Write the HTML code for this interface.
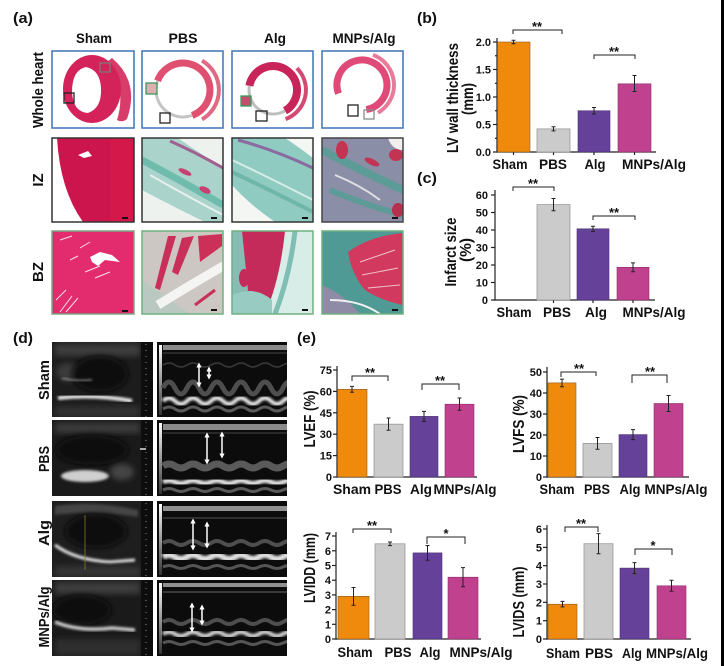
<!DOCTYPE html>
<html><head><meta charset="utf-8"><style>
html,body{margin:0;padding:0;background:#fff;}
svg{display:block;}
text{font-family:"Liberation Sans",Arial,sans-serif;font-weight:bold;fill:#111;}
</style></head><body>
<svg width="724" height="666" viewBox="0 0 724 666" xmlns="http://www.w3.org/2000/svg">
<defs>
<filter id="b1" x="-20%" y="-20%" width="140%" height="140%"><feGaussianBlur stdDeviation="1.2"/></filter>
<filter id="b2" x="-30%" y="-30%" width="160%" height="160%"><feGaussianBlur stdDeviation="3"/></filter>
<marker id="ah" viewBox="0 0 10 10" refX="7" refY="5" markerWidth="3.5" markerHeight="3.5" orient="auto-start-reverse"><path d="M0 0 L10 5 L0 10 Z" fill="#fff"/></marker>
<linearGradient id="vbar" x1="0" y1="0" x2="0" y2="1"><stop offset="0" stop-color="#fff"/><stop offset="1" stop-color="#333"/></linearGradient>
<clipPath id="i1"><rect x="52" y="138" width="82" height="84"/></clipPath>
<clipPath id="i2"><rect x="142" y="138" width="81" height="84"/></clipPath>
<clipPath id="i3"><rect x="232" y="138" width="81" height="84"/></clipPath>
<clipPath id="i4"><rect x="322" y="138" width="81" height="84"/></clipPath>
<clipPath id="z1"><rect x="52" y="231" width="82" height="83"/></clipPath>
<clipPath id="z2"><rect x="142" y="231" width="81" height="83"/></clipPath>
<clipPath id="z3"><rect x="232" y="231" width="81" height="83"/></clipPath>
<clipPath id="z4"><rect x="322" y="231" width="81" height="83"/></clipPath>
<clipPath id="e1"><rect x="52" y="342" width="101" height="75"/></clipPath>
<clipPath id="e2"><rect x="52" y="420" width="101" height="76"/></clipPath>
<clipPath id="e3"><rect x="52" y="501" width="101" height="76"/></clipPath>
<clipPath id="e4"><rect x="52" y="580" width="101" height="76"/></clipPath>
<clipPath id="m1"><rect x="157" y="342" width="130" height="75"/></clipPath>
<clipPath id="m2"><rect x="157" y="420" width="130" height="76"/></clipPath>
<clipPath id="m3"><rect x="157" y="501" width="130" height="76"/></clipPath>
<clipPath id="m4"><rect x="157" y="580" width="130" height="76"/></clipPath>
</defs>
<rect width="724" height="666" fill="#fff"/>
<rect x="721" y="0" width="3" height="666" fill="#000"/>

<!-- ===== Panel (a) ===== -->
<text x="13" y="23" font-size="15" textLength="20" lengthAdjust="spacingAndGlyphs">(a)</text>
<text x="94" y="43" font-size="14" text-anchor="middle" textLength="36" lengthAdjust="spacingAndGlyphs">Sham</text>
<text x="183" y="43" font-size="14" text-anchor="middle" textLength="29" lengthAdjust="spacingAndGlyphs">PBS</text>
<text x="275" y="43" font-size="14" text-anchor="middle" textLength="22" lengthAdjust="spacingAndGlyphs">Alg</text>
<text x="364" y="43" font-size="14" text-anchor="middle" textLength="63" lengthAdjust="spacingAndGlyphs">MNPs/Alg</text>
<text transform="translate(43,90) rotate(-90)" font-size="15" text-anchor="middle" textLength="76" lengthAdjust="spacingAndGlyphs">Whole heart</text>
<text transform="translate(43,180) rotate(-90)" font-size="15" text-anchor="middle">IZ</text>
<text transform="translate(43,272) rotate(-90)" font-size="15" text-anchor="middle">BZ</text>

<!-- whole hearts -->
<rect x="52" y="51" width="82" height="77" fill="#fff" stroke="#3f72b5" stroke-width="1.5"/>
<path d="M112 58 Q140 82 127 119 Q122 123 117 120 Q127 88 107 62 Z" fill="#d83c68"/>
<ellipse cx="92" cy="89" rx="29" ry="34" fill="#d4235a"/>
<path d="M86 67 Q100 70 101 88 Q102 108 88 113 Q73 112 72 92 Q72 70 86 67 Z" fill="#fff"/>
<rect x="100" y="63" width="10" height="9" fill="none" stroke="#7a7a7a" stroke-width="1.3"/>
<rect x="64" y="93" width="10" height="10" fill="none" stroke="#222" stroke-width="1.3"/>

<rect x="142" y="51" width="81" height="77" fill="#fff" stroke="#3f72b5" stroke-width="1.5"/>
<path d="M157.6 80.8 A27 27 0 1 1 192.2 115.4" fill="none" stroke="#e05070" stroke-width="7"/>
<path d="M192.2 115.4 A27 27 0 0 1 157.6 80.8" fill="none" stroke="#c4c4c4" stroke-width="3"/>
<path d="M202 60.6 A34 34 0 0 1 202 119.4" fill="none" stroke="#e06a86" stroke-width="4"/>
<rect x="146" y="83" width="11" height="11" fill="#d9b0b0" stroke="#3a9a5a" stroke-width="1.3"/>
<rect x="160" y="113" width="10" height="10" fill="none" stroke="#222" stroke-width="1.3"/>

<rect x="232" y="51" width="81" height="77" fill="#fff" stroke="#3f72b5" stroke-width="1.5"/>
<path d="M249.4 85.8 A24 24 0 1 1 285 110.8" fill="none" stroke="#c8245a" stroke-width="8"/>
<path d="M285 110.8 A24 24 0 0 1 249.4 85.8" fill="none" stroke="#bfbfbf" stroke-width="3"/>
<path d="M296.9 68.1 A31 31 0 0 1 285.6 119.1" fill="none" stroke="#d44a72" stroke-width="4"/>
<rect x="241" y="96" width="10" height="10" fill="#c05070" stroke="#3a9a5a" stroke-width="1.3"/>
<rect x="256" y="111" width="11" height="10" fill="none" stroke="#222" stroke-width="1.3"/>

<rect x="322" y="51" width="81" height="77" fill="#fff" stroke="#3f72b5" stroke-width="1.5"/>
<path d="M338.5 93.6 A25 25 0 1 1 366.3 109.6" fill="none" stroke="#e04a78" stroke-width="7"/>
<path d="M372.9 54.9 A32 32 0 0 1 378 112.7" fill="none" stroke="#e87a9a" stroke-width="4"/>
<rect x="348" y="105" width="10" height="11" fill="none" stroke="#222" stroke-width="1.3"/>
<rect x="364" y="110" width="10" height="9" fill="none" stroke="#8a8a8a" stroke-width="1.3"/>

<!-- IZ row -->
<g clip-path="url(#i1)">
<rect x="52" y="138" width="82" height="84" fill="#cc154c"/>
<rect x="110" y="138" width="24" height="84" fill="#d81a4a" opacity="0.6"/>
<path d="M52 138 L57 138 Q60 190 83 222 L52 222 Z" fill="#fff"/>
<path d="M78 155 L88 151 L92 156 L84 158 Z" fill="#fff"/>
<rect x="122" y="217" width="6" height="2" fill="#111"/>
</g>
<rect x="52" y="138" width="82" height="84" fill="none" stroke="#333" stroke-width="1.5"/>

<g clip-path="url(#i2)">
<rect x="142" y="138" width="81" height="84" fill="#eef2ef"/>
<path d="M142 138 L178 138 Q195 150 223 168 L223 222 L205 222 Q170 205 142 190 Z" fill="#a9d3cb"/>
<path d="M170 141 Q195 152 223 168" fill="none" stroke="#a06090" stroke-width="3"/>
<path d="M142 160 Q180 180 223 205" fill="none" stroke="#6fbcad" stroke-width="7"/>
<path d="M150 175 Q185 195 223 215" fill="none" stroke="#e8f0ee" stroke-width="2"/>
<ellipse cx="185" cy="172" rx="7" ry="2.5" fill="#c84070" transform="rotate(25 185 172)"/>
<ellipse cx="205" cy="190" rx="6" ry="3" fill="#c84070" transform="rotate(25 205 190)"/>
<rect x="211" y="217" width="6" height="2" fill="#111"/>
</g>
<rect x="142" y="138" width="81" height="84" fill="none" stroke="#333" stroke-width="1.5"/>

<g clip-path="url(#i3)">
<rect x="232" y="138" width="81" height="84" fill="#8fcbc1"/>
<path d="M232 185 Q250 205 275 222 L232 222 Z" fill="#f4f6f4"/>
<path d="M285 138 L313 138 L313 158 Q300 148 285 138 Z" fill="#f4f6f4"/>
<path d="M238 140 Q275 150 313 168" fill="none" stroke="#8a6aa0" stroke-width="3"/>
<path d="M232 160 Q270 178 313 200" fill="none" stroke="#d8ece8" stroke-width="2"/>
<path d="M232 172 Q270 190 313 212" fill="none" stroke="#6fb5a8" stroke-width="4"/>
<rect x="302" y="217" width="6" height="2" fill="#111"/>
</g>
<rect x="232" y="138" width="81" height="84" fill="none" stroke="#333" stroke-width="1.5"/>

<g clip-path="url(#i4)">
<rect x="322" y="138" width="81" height="84" fill="#8a8ea6"/>
<path d="M322 150 Q360 170 403 190" fill="none" stroke="#5d9b98" stroke-width="8"/>
<path d="M330 190 Q365 205 403 215" fill="none" stroke="#5d9b98" stroke-width="6"/>
<path d="M335 175 Q360 185 380 200" fill="none" stroke="#e0e0e4" stroke-width="2"/>
<ellipse cx="342" cy="150" rx="6" ry="9" fill="#c23452"/>
<ellipse cx="372" cy="162" rx="8" ry="3" fill="#c23452" transform="rotate(25 372 162)"/>
<path d="M388 138 L403 138 L403 150 Q392 150 388 138 Z" fill="#f2eeee"/>
<ellipse cx="396" cy="155" rx="7" ry="6" fill="#c23452"/>
<ellipse cx="398" cy="210" rx="6" ry="7" fill="#b82e4e"/>
<rect x="392" y="217" width="6" height="2" fill="#111"/>
</g>
<rect x="322" y="138" width="81" height="84" fill="none" stroke="#444" stroke-width="1.5"/>

<!-- BZ row -->
<g clip-path="url(#z1)">
<rect x="52" y="231" width="82" height="83" fill="#e22c6e"/>
<path d="M90 257 L100 252 L112 255 L120 262 L105 260 L98 266 L92 262 Z" fill="#fff"/>
<g stroke="#fbe0ea" stroke-width="1" fill="none">
<path d="M60 240 L72 236"/><path d="M80 248 L90 242"/><path d="M70 260 L78 256"/><path d="M85 272 L100 266"/><path d="M95 278 L110 272"/>
<path d="M56 300 L66 290"/><path d="M60 312 L72 296"/><path d="M66 312 L78 298"/>
</g>
<rect x="122" y="310" width="6" height="2" fill="#111"/>
</g>
<rect x="52" y="231" width="82" height="83" fill="none" stroke="#7aa884" stroke-width="1.5"/>

<g clip-path="url(#z2)">
<rect x="142" y="231" width="81" height="83" fill="#cdc7c3"/>
<path d="M142 280 L142 314 L190 314 Z" fill="#b9c9c2"/>
<path d="M168 236 L176 236 L160 290 L155 288 Z" fill="#c8305a"/>
<path d="M182 238 L194 236 L178 275 L172 272 Z" fill="#c8305a"/>
<path d="M198 236 L222 234 L222 246 L200 262 Z" fill="#cc3058"/>
<path d="M158 305 Q190 285 225 265" fill="none" stroke="#f4f4f2" stroke-width="9"/>
<path d="M195 305 L215 290" fill="none" stroke="#c8305a" stroke-width="3"/>
<rect x="211" y="309" width="6" height="2" fill="#111"/>
</g>
<rect x="142" y="231" width="81" height="83" fill="none" stroke="#6fb07f" stroke-width="1.5"/>

<g clip-path="url(#z3)">
<rect x="232" y="231" width="81" height="83" fill="#c42a5a"/>
<path d="M232 231 L242 231 L248 290 L232 314 Z" fill="#86bcb3"/>
<path d="M285 231 L313 231 L313 314 L265 314 Q280 280 285 231 Z" fill="#d8ece8"/>
<path d="M295 231 Q290 275 275 314" fill="none" stroke="#7fbfb3" stroke-width="5"/>
<path d="M232 295 Q255 285 272 300 L272 314 L232 314 Z" fill="#98ccc3"/>
<ellipse cx="244" cy="278" rx="5" ry="9" fill="#c42a5a"/>
<rect x="302" y="309" width="6" height="2" fill="#111"/>
</g>
<rect x="232" y="231" width="81" height="83" fill="none" stroke="#6fb07f" stroke-width="1.5"/>

<g clip-path="url(#z4)">
<rect x="322" y="231" width="81" height="83" fill="#4f9a94"/>
<path d="M348 252 Q370 236 403 233 L403 305 Q380 300 365 290 Q352 275 348 252 Z" fill="#d13a5e"/>
<path d="M360 262 L395 250 M362 275 L398 268 M368 288 L400 285" stroke="#f0c0cc" stroke-width="1"/>
<path d="M322 285 Q345 295 360 314 L322 314 Z" fill="#8f8aa6"/>
<path d="M330 300 Q360 300 380 314" fill="none" stroke="#f0f0f0" stroke-width="2"/>
<rect x="392" y="309" width="6" height="2" fill="#111"/>
</g>
<rect x="322" y="231" width="81" height="83" fill="none" stroke="#6fb07f" stroke-width="1.5"/>

<!-- ===== Panel (b) ===== -->
<text x="417" y="23" font-size="15" textLength="20" lengthAdjust="spacingAndGlyphs">(b)</text>
<text transform="translate(458,98) rotate(-90)" font-size="16" text-anchor="middle" textLength="110" lengthAdjust="spacingAndGlyphs">LV wall thickness</text>
<text transform="translate(473,99) rotate(-90)" font-size="16" text-anchor="middle" textLength="32" lengthAdjust="spacingAndGlyphs">(mm)</text>
<g stroke="#222" stroke-width="1.2">
<line x1="497" y1="38" x2="497" y2="152.6"/><line x1="496.4" y1="152" x2="656" y2="152"/>
<line x1="493" y1="152" x2="497" y2="152"/><line x1="493" y1="124.5" x2="497" y2="124.5"/><line x1="493" y1="97" x2="497" y2="97"/><line x1="493" y1="69.5" x2="497" y2="69.5"/><line x1="493" y1="42" x2="497" y2="42"/>
<line x1="495" y1="138.25" x2="497" y2="138.25"/><line x1="495" y1="110.75" x2="497" y2="110.75"/><line x1="495" y1="83.25" x2="497" y2="83.25"/><line x1="495" y1="55.75" x2="497" y2="55.75"/>
<line x1="513.5" y1="152" x2="513.5" y2="155"/><line x1="553.5" y1="152" x2="553.5" y2="155"/><line x1="594" y1="152" x2="594" y2="155"/><line x1="634.5" y1="152" x2="634.5" y2="155"/>
</g>
<g font-size="11" text-anchor="end">
<text x="491" y="156">0.0</text><text x="491" y="128.5">0.5</text><text x="491" y="101">1.0</text><text x="491" y="73.5">1.5</text><text x="491" y="46">2.0</text>
</g>
<rect x="497.5" y="42" width="32.5" height="110" fill="#f08a0c" stroke="#8a5a20" stroke-width="0.6"/>
<rect x="537" y="128.9" width="33" height="23.1" fill="#cbcbcb" stroke="#999" stroke-width="0.8"/>
<rect x="578" y="110.75" width="32" height="41.25" fill="#66419a" stroke="#4a3070" stroke-width="0.6"/>
<rect x="618" y="83.8" width="33" height="68.2" fill="#c0428f" stroke="#8a2e68" stroke-width="0.6"/>
<g stroke="#222" stroke-width="1">
<path d="M513.5 40.3 V43.7 M511.5 40.3 H515.5 M511.5 43.7 H515.5"/>
<path d="M553.5 126.7 V130.9 M551.5 126.7 H555.5 M551.5 130.9 H555.5"/>
<path d="M594 107.5 V114 M592 107.5 H596 M592 114 H596"/>
<path d="M634.5 75.5 V91.5 M632.5 75.5 H636.5 M632.5 91.5 H636.5"/>
<path d="M513 34 V30 H562 V34" fill="none"/>
<path d="M594 59 V55 H635 V59" fill="none"/>
</g>
<g font-size="13" text-anchor="middle"><text x="537" y="31">**</text><text x="614" y="56">**</text></g>
<g font-size="14" text-anchor="middle">
<text x="510" y="169" textLength="35" lengthAdjust="spacingAndGlyphs">Sham</text>
<text x="553" y="169" textLength="28" lengthAdjust="spacingAndGlyphs">PBS</text>
<text x="595" y="169" textLength="21" lengthAdjust="spacingAndGlyphs">Alg</text>
<text x="654" y="169" textLength="64" lengthAdjust="spacingAndGlyphs">MNPs/Alg</text>
</g>

<!-- ===== Panel (c) ===== -->
<text x="417" y="183" font-size="15" textLength="20" lengthAdjust="spacingAndGlyphs">(c)</text>
<text transform="translate(456,252) rotate(-90)" font-size="16" text-anchor="middle" textLength="69" lengthAdjust="spacingAndGlyphs">Infarct size</text>
<text transform="translate(471,250) rotate(-90)" font-size="16" text-anchor="middle" textLength="24" lengthAdjust="spacingAndGlyphs">(%)</text>
<g stroke="#222" stroke-width="1.2">
<line x1="495" y1="190" x2="495" y2="300.6"/><line x1="494.4" y1="300" x2="655" y2="300"/>
<line x1="491" y1="300" x2="495" y2="300"/><line x1="491" y1="282.5" x2="495" y2="282.5"/><line x1="491" y1="265" x2="495" y2="265"/><line x1="491" y1="247.5" x2="495" y2="247.5"/><line x1="491" y1="230" x2="495" y2="230"/><line x1="491" y1="212.5" x2="495" y2="212.5"/><line x1="491" y1="195" x2="495" y2="195"/>
<line x1="553.5" y1="300" x2="553.5" y2="303"/><line x1="593" y1="300" x2="593" y2="303"/><line x1="633" y1="300" x2="633" y2="303"/>
</g>
<g font-size="11" text-anchor="end">
<text x="488" y="304">0</text><text x="488" y="286.5">10</text><text x="488" y="269">20</text><text x="488" y="251.5">30</text><text x="488" y="234">40</text><text x="488" y="216.5">50</text><text x="488" y="199">60</text>
</g>
<rect x="537" y="204.6" width="33" height="95.4" fill="#cbcbcb" stroke="#999" stroke-width="0.8"/>
<rect x="577" y="228.8" width="32" height="71.2" fill="#66419a" stroke="#4a3070" stroke-width="0.6"/>
<rect x="617" y="267.3" width="32" height="32.7" fill="#c0428f" stroke="#8a2e68" stroke-width="0.6"/>
<g stroke="#222" stroke-width="1">
<path d="M553.5 198.5 V210.7 M551.5 198.5 H555.5 M551.5 210.7 H555.5"/>
<path d="M593 226.2 V231.4 M591 226.2 H595 M591 231.4 H595"/>
<path d="M633 262.9 V271.7 M631 262.9 H635 M631 271.7 H635"/>
<path d="M513 191 V187 H554 V191" fill="none"/>
<path d="M593 220 V216 H635 V220" fill="none"/>
</g>
<g font-size="13" text-anchor="middle"><text x="533" y="188">**</text><text x="614" y="217">**</text></g>
<g font-size="14" text-anchor="middle">
<text x="514" y="317" textLength="35" lengthAdjust="spacingAndGlyphs">Sham</text>
<text x="557" y="317" textLength="28" lengthAdjust="spacingAndGlyphs">PBS</text>
<text x="596" y="317" textLength="22" lengthAdjust="spacingAndGlyphs">Alg</text>
<text x="654" y="317" textLength="63" lengthAdjust="spacingAndGlyphs">MNPs/Alg</text>
</g>

<!-- ===== Panel (d) ===== -->
<text x="13" y="343" font-size="15" textLength="20" lengthAdjust="spacingAndGlyphs">(d)</text>
<text transform="translate(49,380) rotate(-90)" font-size="15" text-anchor="middle" textLength="40" lengthAdjust="spacingAndGlyphs">Sham</text>
<text transform="translate(49,459) rotate(-90)" font-size="15" text-anchor="middle" textLength="26" lengthAdjust="spacingAndGlyphs">PBS</text>
<text transform="translate(49,533) rotate(-90)" font-size="15" text-anchor="middle" textLength="26" lengthAdjust="spacingAndGlyphs">Alg</text>
<text transform="translate(49,617) rotate(-90)" font-size="15" text-anchor="middle" textLength="61" lengthAdjust="spacingAndGlyphs">MNPs/Alg</text>

<!-- echo left images -->
<g clip-path="url(#e1)">
<rect x="52" y="342" width="101" height="75" fill="#1c1c1c"/>
<rect x="55" y="344" width="85" height="12" fill="#3c3c3c" filter="url(#b2)"/>
<ellipse cx="68" cy="372" rx="12" ry="9" fill="#3a3a3a" filter="url(#b2)"/>
<ellipse cx="100" cy="374" rx="28" ry="18" fill="#070707" filter="url(#b2)"/>
<path d="M62 378 Q75 382 92 380" stroke="#999" stroke-width="1.5" fill="none" filter="url(#b1)"/>
<path d="M58 398 Q95 394 132 401" stroke="#e4e4e4" stroke-width="4" fill="none" filter="url(#b1)"/>
<rect x="55" y="406" width="85" height="11" fill="#303030" filter="url(#b2)"/>
<rect x="141" y="342" width="12" height="75" fill="#0d0d0d"/>
<line x1="146" y1="344" x2="146" y2="417" stroke="#888" stroke-width="1" stroke-dasharray="1 5"/>
</g>
<g clip-path="url(#e2)">
<rect x="52" y="420" width="101" height="76" fill="#1a1a1a"/>
<rect x="55" y="423" width="85" height="10" fill="#3a3a3a" filter="url(#b2)"/>
<ellipse cx="92" cy="450" rx="36" ry="15" fill="#070707" filter="url(#b2)"/>
<ellipse cx="85" cy="476" rx="24" ry="6" fill="#cfcfcf" filter="url(#b1)"/>
<ellipse cx="122" cy="472" rx="12" ry="8" fill="#444" filter="url(#b2)"/>
<rect x="141" y="420" width="12" height="76" fill="#0d0d0d"/>
<line x1="146" y1="422" x2="146" y2="496" stroke="#888" stroke-width="1" stroke-dasharray="1 5"/>
<rect x="140" y="448" width="6" height="2" fill="#aaa"/>
</g>
<g clip-path="url(#e3)">
<rect x="52" y="501" width="101" height="76" fill="#1e1e1e"/>
<path d="M55 506 Q95 500 138 510 L138 517 Q95 510 55 515 Z" fill="#454545" filter="url(#b1)"/>
<ellipse cx="96" cy="531" rx="31" ry="17" fill="#070707" filter="url(#b2)"/>
<path d="M55 545 Q75 560 110 562 L135 560" stroke="#e2e2e2" stroke-width="3" fill="none" filter="url(#b1)"/>
<rect x="55" y="566" width="85" height="11" fill="#363636" filter="url(#b2)"/>
<line x1="85" y1="515" x2="85" y2="570" stroke="#8a7a30" stroke-width="0.8"/>
<rect x="141" y="501" width="12" height="76" fill="#0d0d0d"/>
<line x1="146" y1="503" x2="146" y2="577" stroke="#888" stroke-width="1" stroke-dasharray="1 5"/>
</g>
<g clip-path="url(#e4)">
<rect x="52" y="580" width="101" height="76" fill="#1a1a1a"/>
<rect x="55" y="582" width="85" height="12" fill="#3e3e3e" filter="url(#b2)"/>
<ellipse cx="82" cy="610" rx="29" ry="15" fill="#070707" filter="url(#b2)"/>
<path d="M55 622 Q80 632 112 628 L135 630" stroke="#cfcfcf" stroke-width="3.5" fill="none" filter="url(#b1)"/>
<rect x="55" y="639" width="85" height="17" fill="#2e2e2e" filter="url(#b2)"/>
<rect x="141" y="580" width="12" height="76" fill="#0d0d0d"/>
<line x1="146" y1="582" x2="146" y2="656" stroke="#888" stroke-width="1" stroke-dasharray="1 5"/>
</g>

<!-- M-mode images -->
<g clip-path="url(#m1)">
<rect x="157" y="342" width="130" height="75" fill="#0c0c0c"/>
<rect x="159" y="345" width="3" height="70" fill="url(#vbar)"/>
<rect x="163" y="345" width="124" height="5" fill="#8a8a8a"/>
<line x1="163" y1="353" x2="287" y2="353" stroke="#444" stroke-width="1"/>
<path d="M163 365 q6 -4 12 0 t12 0 t12 0 t12 0 t12 0 t12 0 t12 0 t12 0 t12 0 t12 0 t12 0" stroke="#3a3a3a" stroke-width="1.5" fill="none"/>
<path d="M163 388 q6 -12 12 0 t12 0 t12 0 t12 0 t12 0 t12 0 t12 0 t12 0 t12 0 t12 0 t12 0" stroke="#4e4e4e" stroke-width="5" fill="none"/>
<path d="M163 401 q6 -6 12 0 t12 0 t12 0 t12 0 t12 0 t12 0 t12 0 t12 0 t12 0 t12 0 t12 0" stroke="#e8e8e8" stroke-width="4" fill="none" filter="url(#b1)"/>
<path d="M163 409 q6 -4 12 0 t12 0 t12 0 t12 0 t12 0 t12 0 t12 0 t12 0 t12 0 t12 0 t12 0" stroke="#5a5a5a" stroke-width="3" fill="none"/>
<line x1="199" y1="364" x2="199" y2="386" stroke="#fff" stroke-width="1.5" marker-start="url(#ah)" marker-end="url(#ah)"/>
<line x1="209" y1="368" x2="209" y2="378" stroke="#fff" stroke-width="1.5" marker-start="url(#ah)" marker-end="url(#ah)"/>
</g>
<g clip-path="url(#m2)">
<rect x="157" y="420" width="130" height="76" fill="#0c0c0c"/>
<rect x="159" y="423" width="3" height="71" fill="url(#vbar)"/>
<rect x="163" y="424" width="124" height="6" fill="#8a8a8a"/>
<line x1="163" y1="433" x2="287" y2="433" stroke="#444" stroke-width="1"/>
<path d="M163 466 q6 -4 12 0 t12 0 t12 0 t12 0 t12 0 t12 0 t12 0 t12 0 t12 0 t12 0 t12 0" stroke="#5a5a5a" stroke-width="7" fill="none"/>
<path d="M163 482 q6 -3 12 0 t12 0 t12 0 t12 0 t12 0 t12 0 t12 0 t12 0 t12 0 t12 0 t12 0" stroke="#e0e0e0" stroke-width="5" fill="none" filter="url(#b1)"/>
<path d="M163 490 q6 -3 12 0 t12 0 t12 0 t12 0 t12 0 t12 0 t12 0 t12 0 t12 0 t12 0 t12 0" stroke="#5a5a5a" stroke-width="3" fill="none"/>
<line x1="207" y1="434" x2="207" y2="463" stroke="#fff" stroke-width="1.5" marker-start="url(#ah)" marker-end="url(#ah)"/>
<line x1="222" y1="433" x2="222" y2="457" stroke="#fff" stroke-width="1.5" marker-start="url(#ah)" marker-end="url(#ah)"/>
</g>
<g clip-path="url(#m3)">
<rect x="157" y="501" width="130" height="76" fill="#0c0c0c"/>
<rect x="159" y="504" width="3" height="71" fill="url(#vbar)"/>
<rect x="163" y="506" width="124" height="5" fill="#909090"/>
<line x1="163" y1="518" x2="287" y2="518" stroke="#444" stroke-width="1.2"/>
<path d="M163 543 q6 -4 12 0 t12 0 t12 0 t12 0 t12 0 t12 0 t12 0 t12 0 t12 0 t12 0 t12 0" stroke="#4e4e4e" stroke-width="4" fill="none"/>
<path d="M163 557 q6 -4 12 0 t12 0 t12 0 t12 0 t12 0 t12 0 t12 0 t12 0 t12 0 t12 0 t12 0" stroke="#e0e0e0" stroke-width="6" fill="none" filter="url(#b1)"/>
<path d="M163 567 q6 -3 12 0 t12 0 t12 0 t12 0 t12 0 t12 0 t12 0 t12 0 t12 0 t12 0 t12 0" stroke="#555" stroke-width="3" fill="none"/>
<line x1="193" y1="520" x2="193" y2="549" stroke="#fff" stroke-width="1.5" marker-start="url(#ah)" marker-end="url(#ah)"/>
<line x1="207" y1="523" x2="207" y2="547" stroke="#fff" stroke-width="1.5" marker-start="url(#ah)" marker-end="url(#ah)"/>
</g>
<g clip-path="url(#m4)">
<rect x="157" y="580" width="130" height="76" fill="#0c0c0c"/>
<rect x="159" y="583" width="3" height="71" fill="url(#vbar)"/>
<rect x="163" y="583" width="124" height="4" fill="#909090"/>
<line x1="163" y1="592" x2="287" y2="592" stroke="#3a3a3a" stroke-width="2"/>
<path d="M163 622 q6 -4 12 0 t12 0 t12 0 t12 0 t12 0 t12 0 t12 0 t12 0 t12 0 t12 0 t12 0" stroke="#4e4e4e" stroke-width="4" fill="none"/>
<path d="M163 634 q6 -4 12 0 t12 0 t12 0 t12 0 t12 0 t12 0 t12 0 t12 0 t12 0 t12 0 t12 0" stroke="#d8d8d8" stroke-width="4" fill="none" filter="url(#b1)"/>
<path d="M163 643 q6 -3 12 0 t12 0 t12 0 t12 0 t12 0 t12 0 t12 0 t12 0 t12 0 t12 0 t12 0" stroke="#555" stroke-width="3" fill="none"/>
<line x1="192" y1="604" x2="192" y2="631" stroke="#fff" stroke-width="1.5" marker-start="url(#ah)" marker-end="url(#ah)"/>
<line x1="202" y1="606" x2="202" y2="624" stroke="#fff" stroke-width="1.5" marker-start="url(#ah)" marker-end="url(#ah)"/>
</g>

<!-- ===== Panel (e) ===== -->
<text x="297" y="343" font-size="15" textLength="19" lengthAdjust="spacingAndGlyphs">(e)</text>

<!-- LVEF -->
<text transform="translate(315,419) rotate(-90)" font-size="16" text-anchor="middle" textLength="57" lengthAdjust="spacingAndGlyphs">LVEF (%)</text>
<g stroke="#222" stroke-width="1.2">
<line x1="337" y1="366" x2="337" y2="477.6"/><line x1="336.4" y1="477" x2="477" y2="477"/>
<line x1="333" y1="477" x2="337" y2="477"/><line x1="333" y1="455.6" x2="337" y2="455.6"/><line x1="333" y1="434.2" x2="337" y2="434.2"/><line x1="333" y1="412.8" x2="337" y2="412.8"/><line x1="333" y1="391.4" x2="337" y2="391.4"/><line x1="333" y1="370" x2="337" y2="370"/>
</g>
<g font-size="11" text-anchor="end">
<text x="332" y="481">0</text><text x="332" y="459.6">15</text><text x="332" y="438.2">30</text><text x="332" y="416.8">45</text><text x="332" y="395.4">60</text><text x="332" y="374">75</text>
</g>
<rect x="337.5" y="389.3" width="29.5" height="87.7" fill="#f08a0c" stroke="#8a5a20" stroke-width="0.6"/>
<rect x="374" y="424.2" width="29" height="52.8" fill="#cbcbcb" stroke="#999" stroke-width="0.8"/>
<rect x="410" y="416.4" width="28" height="60.6" fill="#66419a" stroke="#4a3070" stroke-width="0.6"/>
<rect x="445" y="404.2" width="29" height="72.8" fill="#c0428f" stroke="#8a2e68" stroke-width="0.6"/>
<g stroke="#222" stroke-width="1">
<path d="M352 386.4 V392.2 M350 386.4 H354 M350 392.2 H354"/>
<path d="M388.5 418 V430.3 M386.5 418 H390.5 M386.5 430.3 H390.5"/>
<path d="M424 411.4 V421.4 M422 411.4 H426 M422 421.4 H426"/>
<path d="M459.5 398 V410.3 M457.5 398 H461.5 M457.5 410.3 H461.5"/>
<path d="M352 381 V376 H388 V381" fill="none"/>
<path d="M422 390 V384 H459 V390" fill="none"/>
</g>
<g font-size="13" text-anchor="middle"><text x="370" y="377">**</text><text x="440" y="385">**</text></g>
<g font-size="14" text-anchor="middle">
<text x="352" y="494" textLength="38" lengthAdjust="spacingAndGlyphs">Sham</text>
<text x="388" y="494" textLength="27" lengthAdjust="spacingAndGlyphs">PBS</text>
<text x="421" y="494" textLength="22" lengthAdjust="spacingAndGlyphs">Alg</text>
<text x="465" y="494" textLength="63" lengthAdjust="spacingAndGlyphs">MNPs/Alg</text>
</g>

<!-- LVFS -->
<text transform="translate(524,424) rotate(-90)" font-size="16" text-anchor="middle" textLength="58" lengthAdjust="spacingAndGlyphs">LVFS (%)</text>
<g stroke="#222" stroke-width="1.2">
<line x1="547" y1="367" x2="547" y2="477.6"/><line x1="546.4" y1="477" x2="689" y2="477"/>
<line x1="543" y1="477" x2="547" y2="477"/><line x1="543" y1="456" x2="547" y2="456"/><line x1="543" y1="435" x2="547" y2="435"/><line x1="543" y1="414" x2="547" y2="414"/><line x1="543" y1="393" x2="547" y2="393"/><line x1="543" y1="372" x2="547" y2="372"/>
</g>
<g font-size="11" text-anchor="end">
<text x="542" y="481">0</text><text x="542" y="460">10</text><text x="542" y="439">20</text><text x="542" y="418">30</text><text x="542" y="397">40</text><text x="542" y="376">50</text>
</g>
<rect x="548" y="382.9" width="28" height="94.1" fill="#f08a0c" stroke="#8a5a20" stroke-width="0.6"/>
<rect x="583" y="443.4" width="29" height="33.6" fill="#cbcbcb" stroke="#999" stroke-width="0.8"/>
<rect x="619" y="434.6" width="28" height="42.4" fill="#66419a" stroke="#4a3070" stroke-width="0.6"/>
<rect x="654" y="403.5" width="29" height="73.5" fill="#c0428f" stroke="#8a2e68" stroke-width="0.6"/>
<g stroke="#222" stroke-width="1">
<path d="M562 379.1 V386.7 M560 379.1 H564 M560 386.7 H564"/>
<path d="M597.5 437.5 V449.3 M595.5 437.5 H599.5 M595.5 449.3 H599.5"/>
<path d="M633 429.6 V439.6 M631 429.6 H635 M631 439.6 H635"/>
<path d="M668.5 395.5 V411.5 M666.5 395.5 H670.5 M666.5 411.5 H670.5"/>
<path d="M561 377 V372 H596 V376" fill="none"/>
<path d="M632 383 V375 H667 V383" fill="none"/>
</g>
<g font-size="13" text-anchor="middle"><text x="579" y="373">**</text><text x="650" y="376">**</text></g>
<g font-size="14" text-anchor="middle">
<text x="557" y="494" textLength="35" lengthAdjust="spacingAndGlyphs">Sham</text>
<text x="597" y="494" textLength="26" lengthAdjust="spacingAndGlyphs">PBS</text>
<text x="630" y="494" textLength="21" lengthAdjust="spacingAndGlyphs">Alg</text>
<text x="676" y="494" textLength="63" lengthAdjust="spacingAndGlyphs">MNPs/Alg</text>
</g>

<!-- LVIDD -->
<text transform="translate(315,568) rotate(-90)" font-size="16" text-anchor="middle" textLength="70" lengthAdjust="spacingAndGlyphs">LVIDD (mm)</text>
<g stroke="#222" stroke-width="1.2">
<line x1="336" y1="532" x2="336" y2="639.6"/><line x1="335.4" y1="639" x2="481" y2="639"/>
<line x1="332" y1="639" x2="336" y2="639"/><line x1="332" y1="624.3" x2="336" y2="624.3"/><line x1="332" y1="609.6" x2="336" y2="609.6"/><line x1="332" y1="594.9" x2="336" y2="594.9"/><line x1="332" y1="580.2" x2="336" y2="580.2"/><line x1="332" y1="565.5" x2="336" y2="565.5"/><line x1="332" y1="550.8" x2="336" y2="550.8"/><line x1="332" y1="536" x2="336" y2="536"/>
</g>
<g font-size="11" text-anchor="end">
<text x="331" y="643">0</text><text x="331" y="628.3">1</text><text x="331" y="613.6">2</text><text x="331" y="598.9">3</text><text x="331" y="584.2">4</text><text x="331" y="569.5">5</text><text x="331" y="554.8">6</text><text x="331" y="540">7</text>
</g>
<rect x="338" y="596.3" width="31" height="42.7" fill="#f08a0c" stroke="#8a5a20" stroke-width="0.6"/>
<rect x="375" y="543.8" width="30" height="95.2" fill="#cbcbcb" stroke="#999" stroke-width="0.8"/>
<rect x="413" y="552.9" width="29" height="86.1" fill="#66419a" stroke="#4a3070" stroke-width="0.6"/>
<rect x="448" y="577.2" width="30" height="61.8" fill="#c0428f" stroke="#8a2e68" stroke-width="0.6"/>
<g stroke="#222" stroke-width="1">
<path d="M353.5 587.5 V605.2 M351.5 587.5 H355.5 M351.5 605.2 H355.5"/>
<path d="M390 542 V545.6 M388 542 H392 M388 545.6 H392"/>
<path d="M427.5 545.5 V560.3 M425.5 545.5 H429.5 M425.5 560.3 H429.5"/>
<path d="M463 567.6 V586.8 M461 567.6 H465 M461 586.8 H465"/>
<path d="M353 533 V529 H391 V533" fill="none"/>
<path d="M427 544 V537 H465 V544" fill="none"/>
</g>
<g font-size="13" text-anchor="middle"><text x="372" y="530">**</text><text x="446" y="538">*</text></g>
<g font-size="14" text-anchor="middle">
<text x="355" y="657" textLength="35" lengthAdjust="spacingAndGlyphs">Sham</text>
<text x="398" y="657" textLength="27" lengthAdjust="spacingAndGlyphs">PBS</text>
<text x="430" y="657" textLength="21" lengthAdjust="spacingAndGlyphs">Alg</text>
<text x="481" y="657" textLength="63" lengthAdjust="spacingAndGlyphs">MNPs/Alg</text>
</g>

<!-- LVIDS -->
<text transform="translate(524,602) rotate(-90)" font-size="16" text-anchor="middle" textLength="71" lengthAdjust="spacingAndGlyphs">LVIDS (mm)</text>
<g stroke="#222" stroke-width="1.2">
<line x1="547" y1="525" x2="547" y2="639.6"/><line x1="546.4" y1="639" x2="691" y2="639"/>
<line x1="543" y1="639" x2="547" y2="639"/><line x1="543" y1="620.7" x2="547" y2="620.7"/><line x1="543" y1="602.3" x2="547" y2="602.3"/><line x1="543" y1="584" x2="547" y2="584"/><line x1="543" y1="565.7" x2="547" y2="565.7"/><line x1="543" y1="547.4" x2="547" y2="547.4"/><line x1="543" y1="529" x2="547" y2="529"/>
</g>
<g font-size="11" text-anchor="end">
<text x="542" y="643">0</text><text x="542" y="624.7">1</text><text x="542" y="606.3">2</text><text x="542" y="588">3</text><text x="542" y="569.7">4</text><text x="542" y="551.4">5</text><text x="542" y="533">6</text>
</g>
<rect x="548" y="604.2" width="29" height="34.8" fill="#f08a0c" stroke="#8a5a20" stroke-width="0.6"/>
<rect x="584" y="543.7" width="29" height="95.3" fill="#cbcbcb" stroke="#999" stroke-width="0.8"/>
<rect x="620" y="568.1" width="29" height="70.9" fill="#66419a" stroke="#4a3070" stroke-width="0.6"/>
<rect x="657" y="585.8" width="29" height="53.2" fill="#c0428f" stroke="#8a2e68" stroke-width="0.6"/>
<g stroke="#222" stroke-width="1">
<path d="M562.5 601.4 V606.9 M560.5 601.4 H564.5 M560.5 606.9 H564.5"/>
<path d="M598.5 533.6 V553.8 M596.5 533.6 H600.5 M596.5 553.8 H600.5"/>
<path d="M634.5 562.6 V573.6 M632.5 562.6 H636.5 M632.5 573.6 H636.5"/>
<path d="M671.5 580.3 V591.3 M669.5 580.3 H673.5 M669.5 591.3 H673.5"/>
<path d="M565 532 V527 H598 V532" fill="none"/>
<path d="M635 555 V549 H672 V555" fill="none"/>
</g>
<g font-size="13" text-anchor="middle"><text x="581" y="528">**</text><text x="653" y="550">*</text></g>
<g font-size="14" text-anchor="middle">
<text x="563" y="658" textLength="34" lengthAdjust="spacingAndGlyphs">Sham</text>
<text x="599" y="658" textLength="28" lengthAdjust="spacingAndGlyphs">PBS</text>
<text x="632" y="658" textLength="20" lengthAdjust="spacingAndGlyphs">Alg</text>
<text x="677" y="658" textLength="62" lengthAdjust="spacingAndGlyphs">MNPs/Alg</text>
</g>
</svg>
</body></html>
